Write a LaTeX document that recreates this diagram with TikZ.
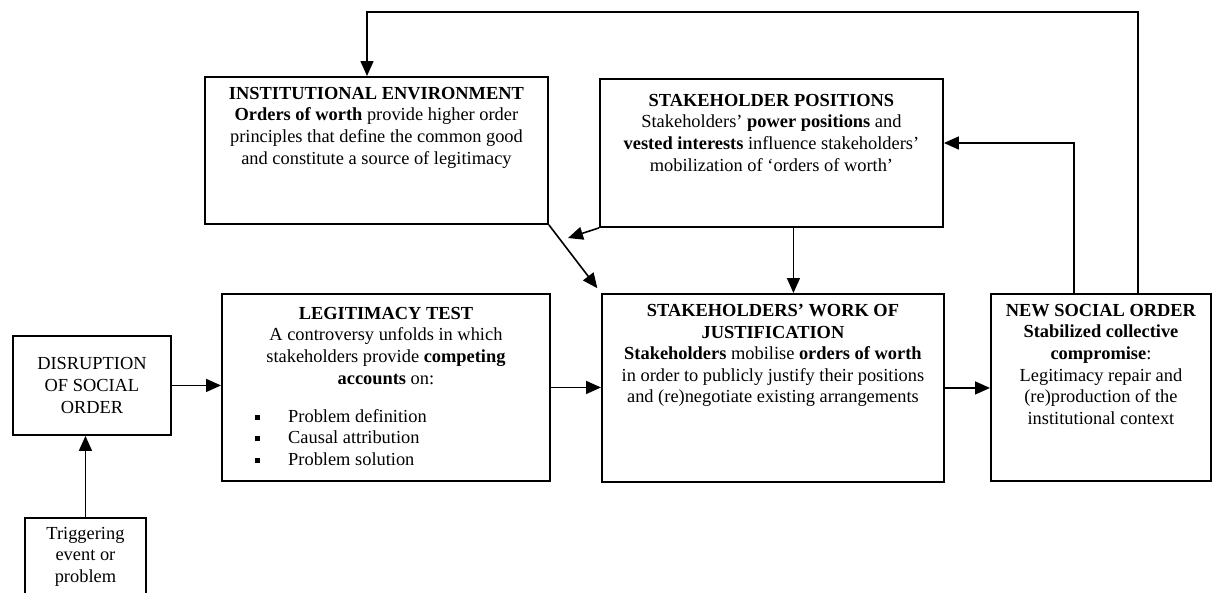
\documentclass[tikz,border=0pt]{standalone}
\usepackage{fontspec}
\setmainfont{Liberation Serif}
\usetikzlibrary{arrows.meta}
\usetikzlibrary{positioning}
\newcommand{\sqbullet}{\makebox[33pt][l]{\rule[2.5pt]{5pt}{5pt}}}

\begin{document}
\begin{tikzpicture}[x=1pt, y=-1pt,
    frame/.style={draw=black, line width=1.9pt,
                  inner sep=0pt, anchor=north west},
    boxtext/.style={inner sep=0pt, align=center,
                    font=\fontsize{18.4}{21.6}\selectfont},
    link/.style={line width=1.6pt,
                 -{Triangle[length=15pt, width=13pt]}}]
  \useasboundingbox (0,0) rectangle (1215,592);
  \clip (0,0) rectangle (1215,592);

  % disruption
  \node (disr)
    [frame, boxtext,
     minimum width=158pt, minimum height=99pt]
    at (12,335)
    {DISRUPTION\\OF SOCIAL\\ORDER};

  % trigger
  \node (trig)
    [frame,
     minimum width=121pt, minimum height=95pt]
    at (24,517) {};
  \node (trigtext)
    [boxtext, below=10pt of trig.north]
    {Triggering\\event or\\problem};

  % legitimacy test
  \node (legit)
    [frame,
     minimum width=328pt, minimum height=187pt]
    at (221,293) {};
  \node (legittext)
    [boxtext, below=14pt of legit.north]
    {\textbf{LEGITIMACY TEST}\\
     A controversy unfolds in which\\
     stakeholders provide \textbf{competing}\\
     \textbf{accounts} on:};
  \node (legitlist)
    [boxtext, align=left,
     below right=116pt and 34pt of legit.north west]
    {\sqbullet Problem definition\\
     \sqbullet Causal attribution\\
     \sqbullet Problem solution};

  % work of justification
  \node (work)
    [frame,
     minimum width=342pt, minimum height=188pt]
    at (601,293) {};
  \node (worktext)
    [boxtext, below=11pt of work.north]
    {\textbf{STAKEHOLDERS’ WORK OF}\\
     \textbf{JUSTIFICATION}\\
     \textbf{Stakeholders} mobilise \textbf{orders of worth}\\
     in order to publicly justify their positions\\
     and (re)negotiate existing arrangements};

  % new social order
  \node (new)
    [frame,
     minimum width=220pt, minimum height=187pt]
    at (990,293) {};
  \node (newtext)
    [boxtext, below=11pt of new.north]
    {\textbf{NEW SOCIAL ORDER}\\
     \textbf{Stabilized collective}\\
     \textbf{compromise}:\\
     Legitimacy repair and\\
     (re)production of the\\
     institutional context};

  % institutional environment
  \node (inst)
    [frame,
     minimum width=343pt, minimum height=147pt]
    at (204,76) {};
  \node (insttext)
    [boxtext, below=11pt of inst.north]
    {\textbf{INSTITUTIONAL ENVIRONMENT}\\
     \textbf{Orders of worth} provide higher order\\
     principles that define the common good\\
     and constitute a source of legitimacy};

  % stakeholder positions
  \node (pos)
    [frame,
     minimum width=343pt, minimum height=148pt]
    at (599,78) {};
  \node (postext)
    [boxtext, below=16pt of pos.north]
    {\textbf{STAKEHOLDER POSITIONS}\\
     Stakeholders’ \textbf{power positions} and\\
     \textbf{vested interests} influence stakeholders’\\
     mobilization of ‘orders of worth’};

  % turning points
  \coordinate (loopR) at (1138,12);
  \coordinate (loopL) at (367,12);
  \coordinate (sideR) at (1074,143);
  \coordinate (gapend) at (568,238);

  % edges
  \draw [link] (trig.north) -- (trig.north |- disr.south);
  \draw [link] (disr.east) -- (disr.east -| legit.west);
  \draw [link] (legit.east) -- (legit.east -| work.west);
  \draw [link] (work.east) -- (work.east -| new.west);
  \draw [link] ([xshift=22pt]pos.south) -- ([xshift=22pt]pos.south |- work.north);
  \draw [link, shorten >=6pt] (inst.south east) -- (work.north west);
  \draw [link] (pos.south west) -- (gapend);
  \draw [link] (sideR |- new.north) -- (sideR) -- (sideR -| pos.east);
  \draw [link] (loopR |- new.north) -- (loopR) -- (loopL) -- (loopL |- inst.north);
\end{tikzpicture}
\end{document}
